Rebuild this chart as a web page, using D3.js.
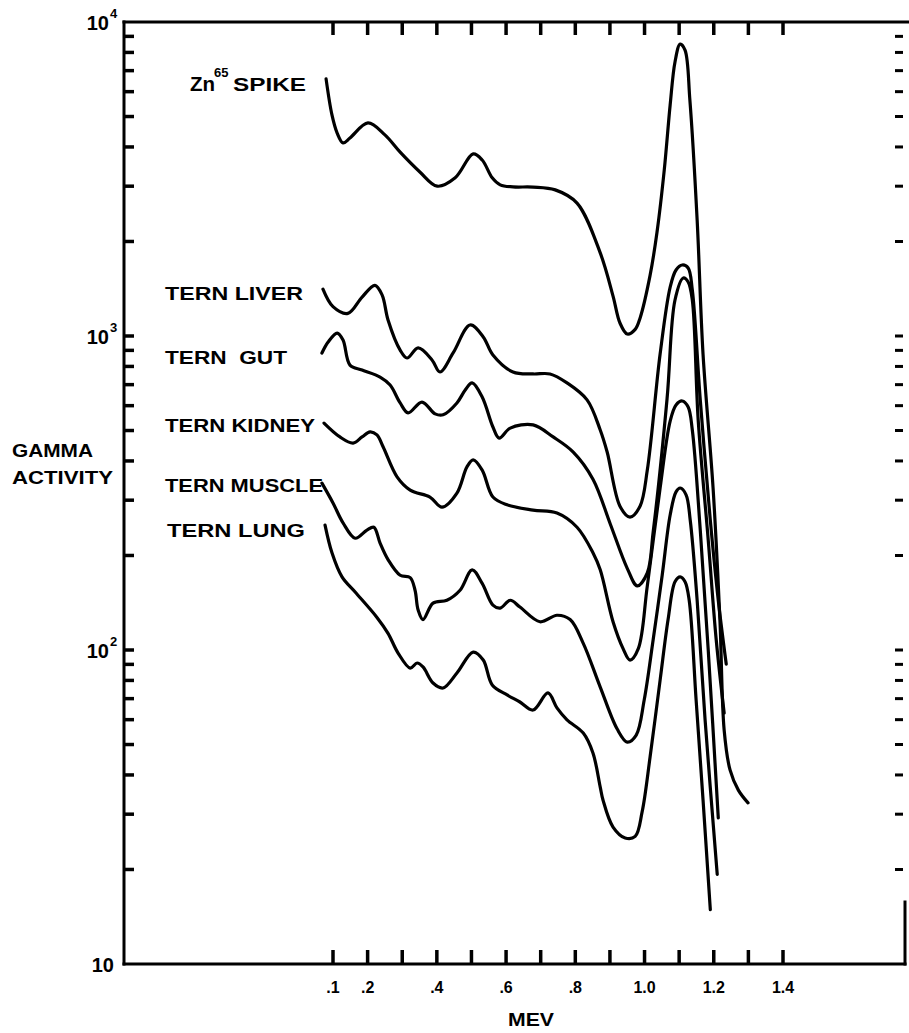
<!DOCTYPE html>
<html><head><meta charset="utf-8">
<script src="https://cdn.jsdelivr.net/npm/d3@7"></script>
<style>
body{margin:0;background:#fff;}
svg text{font-family:"Liberation Sans",Arial,sans-serif;font-weight:bold;fill:#000;}
</style></head><body>
<svg id="chart" width="909" height="1033"></svg>
<script>
// ---------- data (MeV, gamma activity) ----------
const xTickValues = [0.1,0.2,0.3,0.4,0.5,0.6,0.7,0.8,0.9,1.0,1.1,1.2,1.3,1.4];
const xTickLabels = [".1",".2","",".4","",".6","",".8","","1.0","","1.2","","1.4"];
const yDecades = [10,100,1000,10000];
const yDecadeSup = ["","2","3","4"];
const yMinorMult = [1,2,3,4,5,6,7,8,9];
const seriesNames = ["Zn65 SPIKE","TERN LIVER","TERN  GUT","TERN KIDNEY","TERN MUSCLE","TERN LUNG"];

const znSpike = [[0.080,6590],[0.097,5060],[0.112,4430],[0.129,4120],[0.149,4270],[0.201,4770],[0.250,4370],[0.294,3850],[0.351,3330],[0.401,3000],[0.453,3190],[0.505,3800],[0.531,3635],[0.560,3190],[0.583,3030],[0.620,2985],[0.678,2980],[0.742,2920],[0.805,2650],[0.872,1840],[0.909,1340],[0.929,1100],[0.950,1015],[0.973,1050],[0.987,1140],[1.016,1560],[1.036,2140],[1.057,3380],[1.074,5440],[1.088,7460],[1.103,8510],[1.117,8140],[1.131,5640],[1.152,2340],[1.169,876],[1.198,328],[1.218,123],[1.230,55.6],[1.247,41.5],[1.271,35.8],[1.299,32.6]];
const ternLiver = [[0.071,1410],[0.100,1240],[0.143,1180],[0.184,1330],[0.221,1450],[0.242,1350],[0.259,1125],[0.294,902],[0.314,851],[0.346,916],[0.386,839],[0.409,768],[0.447,883],[0.496,1084],[0.534,993],[0.562,870],[0.620,768],[0.678,757],[0.727,757],[0.776,709],[0.834,626],[0.872,502],[0.892,427],[0.929,287],[0.958,265],[0.987,287],[1.008,374],[1.045,876],[1.074,1432],[1.091,1623],[1.109,1683],[1.126,1647],[1.138,1401],[1.161,626],[1.190,259],[1.213,144],[1.236,90.2]];
const ternGut = [[0.068,883],[0.086,957],[0.112,1022],[0.129,971],[0.149,808],[0.184,779],[0.236,740],[0.265,698],[0.294,612],[0.317,569],[0.357,616],[0.395,565],[0.418,561],[0.458,612],[0.482,673],[0.502,709],[0.531,639],[0.562,513],[0.580,473],[0.612,509],[0.678,521],[0.736,477],[0.794,427],[0.851,350],[0.901,252],[0.950,182],[0.979,160],[1.008,176],[1.025,238],[1.065,630],[1.088,1302],[1.112,1530],[1.126,1486],[1.138,1302],[1.155,540],[1.184,224],[1.207,108],[1.230,63.0]];
const ternKidney = [[0.074,528],[0.120,477],[0.158,456],[0.184,477],[0.207,495],[0.227,484],[0.245,443],[0.285,356],[0.323,323],[0.380,307],[0.415,285],[0.458,316],[0.487,383],[0.505,403],[0.531,374],[0.562,307],[0.603,290],[0.678,279],[0.747,273],[0.805,246],[0.851,204],[0.872,180],[0.909,123],[0.938,101],[0.958,92.9],[0.982,101],[1.008,160],[1.045,328],[1.074,536],[1.091,603],[1.109,621],[1.126,594],[1.138,502],[1.161,241],[1.184,100],[1.213,29.2]];
const ternMuscle = [[0.068,340],[0.100,294],[0.129,254],[0.164,227],[0.198,241],[0.218,246],[0.236,219],[0.259,194],[0.294,173],[0.323,170],[0.337,155],[0.346,134],[0.360,125],[0.389,141],[0.429,144],[0.467,155],[0.502,180],[0.531,163],[0.562,139],[0.583,136],[0.612,144],[0.640,137],[0.698,123],[0.747,129],[0.785,125],[0.823,105],[0.872,76.2],[0.921,56.0],[0.950,50.9],[0.976,53.6],[0.999,69.3],[1.025,108],[1.051,173],[1.074,269],[1.091,319],[1.103,328],[1.120,312],[1.132,259],[1.152,144],[1.175,59.8],[1.210,19.3]];
const ternLung = [[0.077,250],[0.097,204],[0.126,171],[0.164,153],[0.227,127],[0.259,113],[0.288,97.8],[0.323,87.6],[0.343,90.9],[0.360,88.3],[0.389,78.5],[0.418,75.7],[0.458,84.5],[0.505,98.5],[0.534,92.9],[0.560,77.4],[0.603,71.9],[0.640,68.3],[0.678,64.4],[0.721,73.0],[0.747,65.4],[0.776,59.9],[0.823,54.4],[0.851,47.0],[0.872,36.6],[0.880,33.3],[0.909,27.3],[0.944,25.2],[0.973,25.5],[0.993,30.5],[1.016,45.6],[1.045,80.2],[1.068,125],[1.088,165],[1.103,171],[1.117,165],[1.129,144],[1.149,69.3],[1.169,33.3],[1.190,14.9]];

const allSeries = [znSpike, ternLiver, ternGut, ternKidney, ternMuscle, ternLung];

// ---------- layout ----------
const svg = d3.select("#chart");
const frame = {left:124, right:905, top:22, bottom:964};
const x = d3.scaleLinear().domain([0.1,1.4]).range([333,783]);
const y = d3.scaleLog().domain([10,10000]).range([frame.bottom, frame.top]);

const minorTicks = [];
yDecades.slice(0,3).forEach(d => yMinorMult.forEach(m => minorTicks.push(d*m)));

// frame lines
const fr = svg.append("g").attr("stroke","#000").attr("stroke-width",3).attr("fill","none")
  .attr("stroke-linecap","square");
fr.append("line").attr("x1",frame.left).attr("x2",909).attr("y1",frame.top).attr("y2",frame.top);
fr.append("line").attr("x1",frame.left).attr("x2",frame.left).attr("y1",frame.top).attr("y2",frame.bottom);
fr.append("line").attr("x1",frame.left).attr("x2",frame.right).attr("y1",frame.bottom).attr("y2",frame.bottom);
fr.append("line").attr("x1",frame.right).attr("x2",frame.right).attr("y1",902).attr("y2",frame.bottom);

// tick marks drawn from the scales
const tk = svg.append("g").attr("fill","none");
tk.selectAll("line.top").data(xTickValues).join("line").attr("class","top")
  .attr("x1",d=>x(d)).attr("x2",d=>x(d)).attr("y1",frame.top).attr("y2",frame.top+13)
  .attr("stroke","#000").attr("stroke-width",3.5);
tk.selectAll("line.bot").data(xTickValues).join("line").attr("class","bot")
  .attr("x1",d=>x(d)).attr("x2",d=>x(d)).attr("y1",frame.bottom).attr("y2",frame.bottom-14)
  .attr("stroke","#000").attr("stroke-width",3.5);
tk.selectAll("line.left").data(minorTicks.filter(v=>v>10)).join("line").attr("class","left")
  .attr("x1",frame.left).attr("x2",frame.left+10).attr("y1",d=>y(d)).attr("y2",d=>y(d))
  .attr("stroke","#000").attr("stroke-width",3.5);
tk.selectAll("line.right").data(minorTicks.filter(v=>v>10)).join("line").attr("class","right")
  .attr("x1",frame.right-10).attr("x2",frame.right-2).attr("y1",d=>y(d)).attr("y2",d=>y(d))
  .attr("stroke","#000").attr("stroke-width",3);

// x tick labels
svg.append("g").selectAll("text").data(xTickValues.filter((d,i)=>xTickLabels[i]!==""))
  .join("text").attr("x",d=>x(d)).attr("y",993).attr("text-anchor","middle").attr("font-size",16)
  .text(d=>xTickLabels[xTickValues.indexOf(d)]);

// y decade labels
yDecades.forEach((d,i)=>{
  const t = svg.append("text").attr("x",109).attr("y",y(d)+8).attr("text-anchor","end")
     .attr("font-size",20).text("10");
  if (yDecadeSup[i]) {
    svg.append("text").attr("x",110).attr("y",y(d)-4).attr("font-size",13).text(yDecadeSup[i]);
  } else {
    t.attr("x",114);
  }
});

// axis titles
svg.append("text").attr("x",12).attr("y",457).attr("font-size",18)
  .attr("textLength",81).attr("lengthAdjust","spacingAndGlyphs").text("GAMMA");
svg.append("text").attr("x",12).attr("y",484).attr("font-size",18)
  .attr("textLength",101).attr("lengthAdjust","spacingAndGlyphs").text("ACTIVITY");
svg.append("text").attr("x",508).attr("y",1026).attr("font-size",19)
  .attr("textLength",46).attr("lengthAdjust","spacingAndGlyphs").text("MEV");

// series curves
const line = d3.line().x(d=>x(d[0])).y(d=>y(d[1])).curve(d3.curveCatmullRom.alpha(0.5));
svg.append("g").selectAll("path").data(allSeries).join("path")
  .attr("d",line).attr("fill","none").attr("stroke","#000").attr("stroke-width",3.2)
  .attr("stroke-linejoin","round").attr("stroke-linecap","round");

// series labels
svg.append("text").attr("x",190).attr("y",91).attr("font-size",20)
  .attr("textLength",25).attr("lengthAdjust","spacingAndGlyphs").text("Zn");
svg.append("text").attr("x",214).attr("y",77).attr("font-size",13).text("65");
svg.append("text").attr("x",233).attr("y",91).attr("font-size",19)
  .attr("textLength",73).attr("lengthAdjust","spacingAndGlyphs").text("SPIKE");

const labelPos = [null,
  {x:165,y:300,w:138},
  {x:165,y:364,w:122},
  {x:165,y:432,w:150},
  {x:165,y:492,w:158},
  {x:167,y:537,w:138}];
seriesNames.forEach((n,i)=>{
  if (!labelPos[i]) return;
  svg.append("text").attr("x",labelPos[i].x).attr("y",labelPos[i].y).attr("font-size",19)
    .attr("textLength",labelPos[i].w).attr("lengthAdjust","spacingAndGlyphs")
    .attr("xml:space","preserve").style("white-space","pre").text(n);
});
</script>
</body></html>
